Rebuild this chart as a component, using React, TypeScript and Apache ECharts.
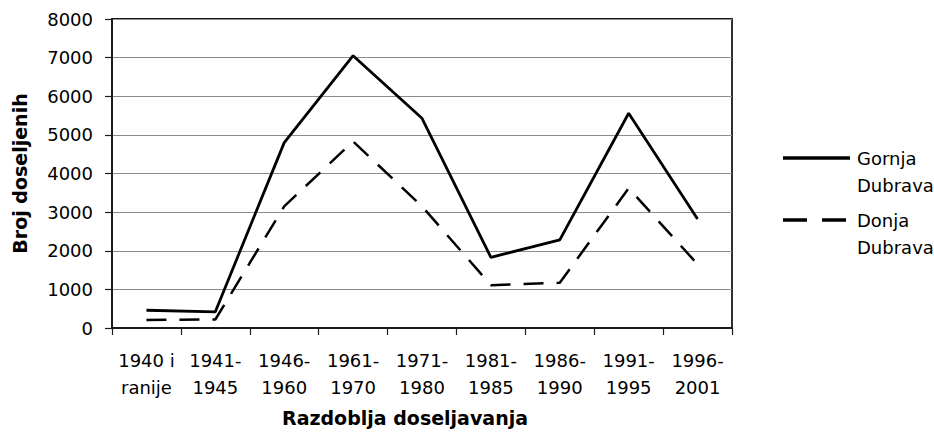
import React, { useEffect, useRef } from "react";
import * as echarts from "echarts";

const categories = [
  "1940 i\nranije",
  "1941-\n1945",
  "1946-\n1960",
  "1961-\n1970",
  "1971-\n1980",
  "1981-\n1985",
  "1986-\n1990",
  "1991-\n1995",
  "1996-\n2001",
];
const gornja = [460, 420, 4800, 7050, 5430, 1830, 2280, 5560, 2820];
const donja = [210, 220, 3150, 4830, 3150, 1110, 1170, 3620, 1650];
const seriesNames = ["Gornja\nDubrava", "Donja\nDubrava"];

const FONT = "DejaVu Sans";

export default function App() {
  const ref = useRef<HTMLDivElement>(null);
  useEffect(() => {
    if (!ref.current) return;
    const chart = echarts.init(ref.current, undefined, { renderer: "svg" });
    chart.setOption({
      animation: false,
      backgroundColor: "#fff",
      textStyle: { fontFamily: FONT, color: "#000" },
      grid: {
        left: 112,
        right: 202,
        top: 19,
        bottom: 104,
        containLabel: false,
        outerBoundsMode: "none",
        show: true,
        borderColor: "#1a1a1a",
        borderWidth: 1.8,
      },
      xAxis: {
        type: "category",
        data: categories,
        boundaryGap: true,
        name: "Razdoblja doseljavanja",
        nameLocation: "middle",
        nameGap: 80,
        nameTextStyle: {
          fontFamily: FONT,
          fontWeight: "bold",
          fontSize: 19,
          color: "#000",
          padding: [0, 34, 0, 0],
        },
        axisLine: { lineStyle: { color: "#1a1a1a", width: 1.8 } },
        axisTick: {
          show: true,
          inside: false,
          length: 7,
          alignWithLabel: false,
          lineStyle: { color: "#1a1a1a", width: 1.2 },
        },
        axisLabel: {
          fontFamily: FONT,
          fontSize: 18,
          color: "#000",
          lineHeight: 27,
          margin: 19,
          interval: 0,
        },
        splitLine: { show: false },
      },
      yAxis: {
        type: "value",
        min: 0,
        max: 8000,
        interval: 1000,
        name: "Broj doseljenih",
        nameLocation: "middle",
        nameGap: 83,
        nameTextStyle: {
          fontFamily: FONT,
          fontWeight: "bold",
          fontSize: 19,
          color: "#000",
        },
        axisLine: { show: true, lineStyle: { color: "#1a1a1a", width: 1.8 } },
        axisTick: {
          show: true,
          inside: false,
          length: 7,
          lineStyle: { color: "#1a1a1a", width: 1.2 },
        },
        axisLabel: {
          fontFamily: FONT,
          fontSize: 18,
          color: "#000",
          margin: 19,
          formatter: (v: number) => String(v),
        },
        splitLine: { show: true, lineStyle: { color: "#8c8c8c", width: 1 } },
      },
      series: [
        {
          name: seriesNames[0],
          type: "line",
          data: gornja,
          showSymbol: false,
          symbol: "none",
          lineStyle: { color: "#000", width: 2.8, type: "solid" },
          itemStyle: { color: "#000" },
        },
        {
          name: seriesNames[1],
          type: "line",
          data: donja,
          showSymbol: false,
          symbol: "none",
          lineStyle: { color: "#000", width: 2.5, type: [20, 13] },
          itemStyle: { color: "#000" },
        },
      ],
      graphic: [
        {
          type: "line",
          shape: { x1: 783, y1: 158, x2: 850, y2: 158 },
          style: { stroke: "#000", lineWidth: 3.5 },
        },
        {
          type: "text",
          x: 857,
          y: 144.5,
          style: {
            text: seriesNames[0],
            font: `18px "${FONT}"`,
            fill: "#000",
            lineHeight: 27,
            verticalAlign: "top",
            align: "left",
          },
        },
        {
          type: "line",
          shape: { x1: 783, y1: 220, x2: 850, y2: 220 },
          style: { stroke: "#000", lineWidth: 3.5, lineDash: [24, 15] },
        },
        {
          type: "text",
          x: 857,
          y: 206.5,
          style: {
            text: seriesNames[1],
            font: `18px "${FONT}"`,
            fill: "#000",
            lineHeight: 27,
            verticalAlign: "top",
            align: "left",
          },
        },
      ],
    });
    return () => chart.dispose();
  }, []);
  return <div ref={ref} style={{ width: 934, height: 432, position: "absolute", left: 0, top: 0 }} />;
}
